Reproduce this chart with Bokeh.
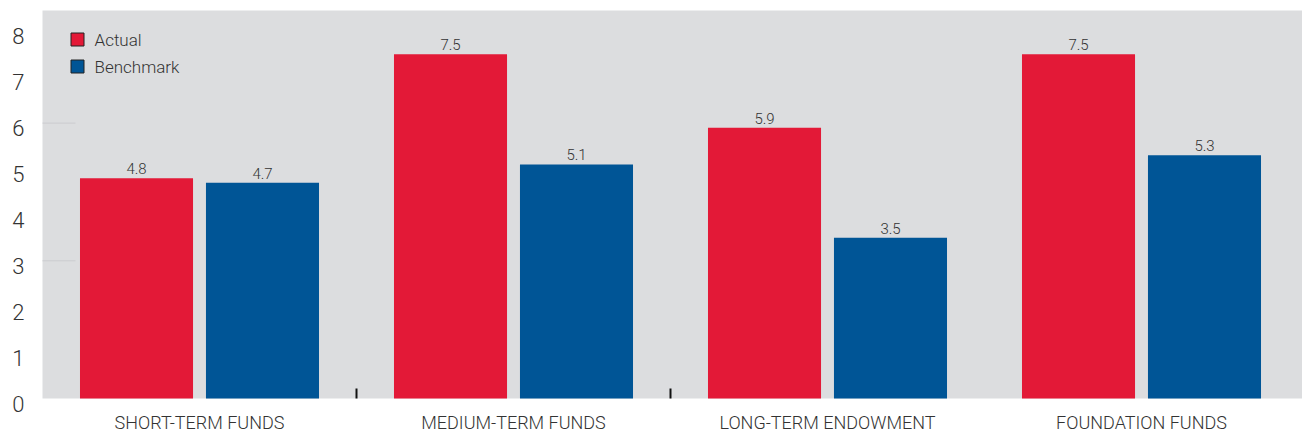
from bokeh.plotting import figure
from bokeh.models import ColumnDataSource, LabelSet, Range1d, BoxAnnotation
from bokeh.core.properties import value
from bokeh.embed import file_html
from bokeh.resources import INLINE

# ---- data ----
categories = ["SHORT-TERM FUNDS", "MEDIUM-TERM FUNDS", "LONG-TERM ENDOWMENT", "FOUNDATION FUNDS"]
actual = [4.8, 7.5, 5.9, 7.5]
benchmark = [4.7, 5.1, 3.5, 5.3]
series_names = ["Actual", "Benchmark"]
y_ticks = [0, 1, 2, 3, 4, 5, 6, 7, 8]
grid_marks = [3, 6]
separators = [1, 2]

# ---- style ----
RED = "#E31937"
BLUE = "#005596"
BG = "#DCDDDF"
TXT = "#333333"
FONT = value("Roboto Light, Roboto, sans-serif")

W, H = 1302, 434
PX_X = 314.0      # pixels per x unit (one category group)
PX_Y = 45.9       # pixels per y unit
LEFT, BOTTOM, TOP = 42, 398, 10   # plot-area pixel edges

n = len(categories)
centers = [i + 0.5 for i in range(n)]
off = 0.2006
bw = 0.36

x0 = -LEFT / PX_X
x1 = (W - LEFT) / PX_X
y0 = -(H - BOTTOM) / PX_Y
y1 = BOTTOM / PX_Y
ytop = (BOTTOM - TOP) / PX_Y

p = figure(width=W, height=H, x_range=Range1d(x0, x1), y_range=Range1d(y0, y1),
           x_axis_type=None, y_axis_type=None, output_backend="svg", toolbar_location=None,
           min_border=0, background_fill_color="white", border_fill_color="white",
           outline_line_color=None)

# gray plot area
p.add_layout(BoxAnnotation(left=0, bottom=0, top=ytop, fill_color=BG, fill_alpha=1,
                           line_color=None, level="underlay"))

# short grid stubs
p.segment(x0=[0] * len(grid_marks), x1=[33 / PX_X] * len(grid_marks), y0=grid_marks, y1=grid_marks,
          line_color="#cbcccf", line_width=1)

src_a = ColumnDataSource(dict(x=[c - off for c in centers], top=actual,
                              lab=[f"{v:.1f}" for v in actual]))
src_b = ColumnDataSource(dict(x=[c + off for c in centers], top=benchmark,
                              lab=[f"{v:.1f}" for v in benchmark]))
p.vbar(x="x", top="top", width=bw, source=src_a, fill_color=RED, line_color=None)
p.vbar(x="x", top="top", width=bw, source=src_b, fill_color=BLUE, line_color=None)

# separator ticks between groups
p.segment(x0=separators, x1=separators, y0=[0] * len(separators),
          y1=[10 / PX_Y] * len(separators), line_color="#111111", line_width=2)

for src in (src_a, src_b):
    p.add_layout(LabelSet(x="x", y="top", text="lab", source=src, text_align="center",
                          text_baseline="alphabetic", y_offset=4, text_font=FONT,
                          text_font_size="15px", text_color=TXT))

# y tick labels
ysrc = ColumnDataSource(dict(x=[0] * len(y_ticks), y=y_ticks, t=[str(v) for v in y_ticks]))
p.add_layout(LabelSet(x="x", y="y", text="t", source=ysrc, x_offset=-18, y_offset=-5,
                      text_align="right", text_baseline="middle", text_font=FONT,
                      text_font_size="22px", text_color=TXT))

# category labels
csrc = ColumnDataSource(dict(x=centers, y=[0] * n, t=categories))
p.add_layout(LabelSet(x="x", y="y", text="t", source=csrc, y_offset=-30,
                      text_align="center", text_baseline="alphabetic", text_font=FONT,
                      text_font_size="18px", text_color=TXT))

# legend (drawn manually: outlined squares + labels)
leg_x = [35 / PX_X] * 2
leg_y = [(BOTTOM - 39) / PX_Y, (BOTTOM - 66) / PX_Y]
p.rect(x=leg_x, y=leg_y, width=13, height=13, width_units="screen", height_units="screen",
       fill_color=[RED, BLUE], line_color="#222222", line_width=1)
lsrc = ColumnDataSource(dict(x=leg_x, y=leg_y, t=series_names))
p.add_layout(LabelSet(x="x", y="y", text="t", source=lsrc, x_offset=17, text_align="left",
                      text_baseline="middle", text_font=FONT, text_font_size="17px",
                      text_color=TXT))

open("out.html", "w").write(file_html(p, INLINE))
